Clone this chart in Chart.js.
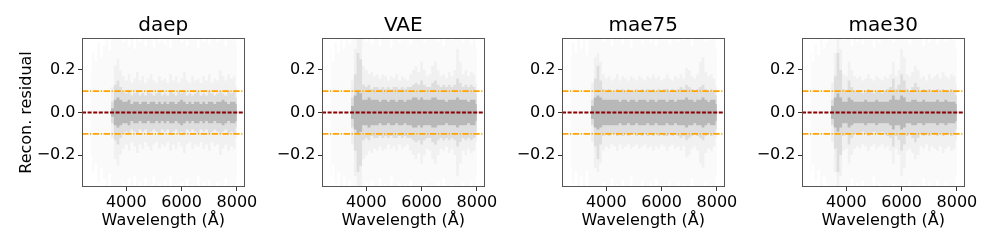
<!DOCTYPE html>
<html>
<head>
<meta charset="utf-8">
<script src="https://cdn.jsdelivr.net/npm/chart.js@4.4.0/dist/chart.umd.min.js"></script>
<style>
body { margin: 0; background: #fff; }
#wrap { position: relative; width: 997px; height: 249px; }
#wrap canvas { position: absolute; top: 0; }
</style>
</head>
<body>
<div id="wrap">
<canvas id="p0" width="260" height="249" style="left:0px"></canvas>
<canvas id="p1" width="260" height="249" style="left:240px"></canvas>
<canvas id="p2" width="260" height="249" style="left:480px"></canvas>
<canvas id="p3" width="260" height="249" style="left:720px"></canvas>
</div>
<script>
const titles = ['daep', 'VAE', 'mae75', 'mae30']
const wave = [
    2700, 2800, 2900, 3000, 3100, 3200, 3300, 3400, 3500,
    3600, 3700, 3800, 3900, 4000, 4100, 4200, 4300, 4400,
    4500, 4600, 4700, 4800, 4900, 5000, 5100, 5200, 5300,
    5400, 5500, 5600, 5700, 5800, 5900, 6000, 6100, 6200,
    6300, 6400, 6500, 6600, 6700, 6800, 6900, 7000, 7100,
    7200, 7300, 7400, 7500, 7600, 7700, 7800, 7900, 8000
]
const xTicks = [4000, 6000, 8000]
const xTickLabels = ['4000', '6000', '8000']
const yTicks = [-0.2, 0, 0.2]
const yTickLabels = ['\u22120.2', '0.0', '0.2']
const refLevels = [0, 0.1, -0.1]
const X_MIN = 2400, X_MAX = 8280, Y_MIN = -0.35, Y_MAX = 0.35

// half-spread of the residual cloud at each wavelength (faint reach, wide, mid, core)
const daepOuter = [
    0.20, 0.28, 0.24, 0.33, 0.26, 0.31, 0.35, 0.29, 0.35,
    0.35, 0.35, 0.35, 0.33, 0.35, 0.31, 0.35, 0.30, 0.35,
    0.33, 0.35, 0.31, 0.35, 0.34, 0.30, 0.35, 0.33, 0.35,
    0.32, 0.35, 0.30, 0.35, 0.34, 0.35, 0.33, 0.35, 0.31,
    0.35, 0.34, 0.35, 0.30, 0.35, 0.33, 0.35, 0.32, 0.35,
    0.35, 0.33, 0.35, 0.35, 0.31, 0.35, 0.34, 0.35, 0.33
]
const daepWide = [
    0, 0, 0, 0, 0, 0, 0, 0, 0.12,
    0.22, 0.25, 0.20, 0.17, 0.15, 0.18, 0.14, 0.16, 0.19,
    0.15, 0.17, 0.14, 0.16, 0.18, 0.15, 0.14, 0.17, 0.15,
    0.16, 0.14, 0.18, 0.15, 0.17, 0.14, 0.16, 0.19, 0.15,
    0.14, 0.17, 0.15, 0.16, 0.14, 0.17, 0.15, 0.18, 0.14,
    0.16, 0.15, 0.20, 0.17, 0.15, 0.18, 0.16, 0.17, 0.12
]
const daepMid = [
    0, 0, 0, 0, 0, 0, 0, 0, 0.05,
    0.13, 0.15, 0.12, 0.10, 0.09, 0.10, 0.08, 0.09, 0.10,
    0.08, 0.09, 0.08, 0.10, 0.09, 0.08, 0.09, 0.10, 0.08,
    0.09, 0.08, 0.10, 0.09, 0.08, 0.10, 0.09, 0.10, 0.08,
    0.09, 0.08, 0.09, 0.10, 0.08, 0.09, 0.08, 0.10, 0.09,
    0.08, 0.09, 0.10, 0.09, 0.08, 0.10, 0.09, 0.10, 0.07
]
const daepCore = [
    0, 0, 0, 0, 0, 0, 0, 0, 0.02,
    0.06, 0.07, 0.06, 0.05, 0.05, 0.06, 0.04, 0.05, 0.05,
    0.04, 0.05, 0.05, 0.04, 0.05, 0.05, 0.04, 0.05, 0.04,
    0.05, 0.04, 0.05, 0.05, 0.04, 0.05, 0.06, 0.05, 0.04,
    0.05, 0.04, 0.05, 0.05, 0.04, 0.05, 0.04, 0.05, 0.05,
    0.04, 0.05, 0.05, 0.06, 0.05, 0.04, 0.05, 0.05, 0.04
]

const vaeOuter = [
    0.30, 0.24, 0.33, 0.28, 0.35, 0.30, 0.35, 0.32, 0.35,
    0.35, 0.35, 0.35, 0.35, 0.33, 0.35, 0.32, 0.35, 0.35,
    0.31, 0.35, 0.34, 0.35, 0.30, 0.35, 0.35, 0.33, 0.35,
    0.34, 0.35, 0.32, 0.35, 0.35, 0.35, 0.35, 0.33, 0.35,
    0.35, 0.35, 0.35, 0.33, 0.35, 0.31, 0.35, 0.35, 0.34,
    0.35, 0.35, 0.35, 0.33, 0.35, 0.35, 0.32, 0.35, 0.30
]
const vaeWide = [
    0, 0, 0, 0, 0, 0, 0, 0, 0.15,
    0.30, 0.35, 0.35, 0.22, 0.20, 0.18, 0.19, 0.17, 0.18,
    0.16, 0.18, 0.17, 0.15, 0.17, 0.16, 0.18, 0.15, 0.17,
    0.16, 0.15, 0.18, 0.20, 0.22, 0.19, 0.24, 0.20, 0.17,
    0.18, 0.22, 0.24, 0.20, 0.17, 0.18, 0.16, 0.19, 0.17,
    0.20, 0.30, 0.24, 0.18, 0.20, 0.17, 0.19, 0.18, 0.14
]
const vaeMid = [
    0, 0, 0, 0, 0, 0, 0, 0, 0.07,
    0.18, 0.28, 0.25, 0.13, 0.12, 0.13, 0.11, 0.12, 0.12,
    0.11, 0.12, 0.11, 0.12, 0.11, 0.12, 0.12, 0.11, 0.12,
    0.11, 0.12, 0.12, 0.13, 0.14, 0.13, 0.15, 0.13, 0.12,
    0.12, 0.14, 0.15, 0.13, 0.12, 0.13, 0.12, 0.13, 0.12,
    0.13, 0.16, 0.14, 0.12, 0.13, 0.12, 0.13, 0.12, 0.09
]
const vaeCore = [
    0, 0, 0, 0, 0, 0, 0, 0, 0.03,
    0.08, 0.10, 0.09, 0.06, 0.06, 0.07, 0.06, 0.06, 0.06,
    0.05, 0.06, 0.06, 0.05, 0.06, 0.06, 0.05, 0.06, 0.06,
    0.05, 0.06, 0.06, 0.07, 0.07, 0.06, 0.07, 0.06, 0.06,
    0.06, 0.07, 0.07, 0.06, 0.06, 0.06, 0.05, 0.06, 0.06,
    0.06, 0.07, 0.06, 0.06, 0.06, 0.05, 0.06, 0.06, 0.04
]

const mae75Outer = [
    0.26, 0.33, 0.28, 0.35, 0.30, 0.35, 0.27, 0.35, 0.35,
    0.35, 0.35, 0.35, 0.33, 0.35, 0.35, 0.31, 0.35, 0.34,
    0.35, 0.32, 0.35, 0.35, 0.30, 0.35, 0.34, 0.35, 0.32,
    0.35, 0.35, 0.33, 0.35, 0.31, 0.35, 0.35, 0.34, 0.35,
    0.32, 0.35, 0.35, 0.33, 0.35, 0.34, 0.35, 0.35, 0.31,
    0.35, 0.35, 0.35, 0.35, 0.33, 0.35, 0.34, 0.35, 0.30
]
const mae75Wide = [
    0, 0, 0, 0, 0, 0, 0, 0, 0.14,
    0.26, 0.28, 0.24, 0.18, 0.16, 0.17, 0.15, 0.16, 0.18,
    0.15, 0.17, 0.16, 0.15, 0.17, 0.16, 0.15, 0.17, 0.16,
    0.15, 0.17, 0.16, 0.18, 0.16, 0.17, 0.15, 0.16, 0.18,
    0.16, 0.15, 0.17, 0.16, 0.18, 0.16, 0.21, 0.20, 0.17,
    0.16, 0.18, 0.24, 0.26, 0.19, 0.17, 0.18, 0.16, 0.12
]
const mae75Mid = [
    0, 0, 0, 0, 0, 0, 0, 0, 0.06,
    0.16, 0.22, 0.15, 0.11, 0.10, 0.11, 0.10, 0.10, 0.11,
    0.10, 0.11, 0.10, 0.11, 0.10, 0.10, 0.11, 0.10, 0.11,
    0.10, 0.11, 0.10, 0.11, 0.10, 0.11, 0.10, 0.11, 0.11,
    0.10, 0.11, 0.10, 0.11, 0.12, 0.11, 0.13, 0.12, 0.11,
    0.10, 0.11, 0.12, 0.13, 0.11, 0.10, 0.11, 0.10, 0.08
]
const mae75Core = [
    0, 0, 0, 0, 0, 0, 0, 0, 0.03,
    0.07, 0.08, 0.07, 0.06, 0.06, 0.06, 0.06, 0.06, 0.06,
    0.05, 0.06, 0.06, 0.05, 0.06, 0.06, 0.05, 0.06, 0.06,
    0.06, 0.05, 0.06, 0.06, 0.05, 0.06, 0.06, 0.06, 0.05,
    0.06, 0.06, 0.05, 0.06, 0.06, 0.06, 0.07, 0.06, 0.06,
    0.05, 0.06, 0.06, 0.07, 0.06, 0.05, 0.06, 0.06, 0.04
]

const mae30Outer = [
    0.28, 0.24, 0.32, 0.27, 0.35, 0.30, 0.33, 0.35, 0.35,
    0.35, 0.35, 0.35, 0.34, 0.35, 0.35, 0.31, 0.35, 0.33,
    0.35, 0.32, 0.35, 0.34, 0.35, 0.30, 0.35, 0.33, 0.35,
    0.35, 0.35, 0.35, 0.33, 0.35, 0.35, 0.35, 0.34, 0.35,
    0.32, 0.35, 0.35, 0.34, 0.35, 0.31, 0.35, 0.33, 0.35,
    0.35, 0.32, 0.35, 0.35, 0.33, 0.35, 0.35, 0.34, 0.30
]
const mae30Wide = [
    0, 0, 0, 0, 0, 0, 0, 0, 0.14,
    0.28, 0.35, 0.30, 0.18, 0.17, 0.24, 0.20, 0.17, 0.16,
    0.17, 0.15, 0.16, 0.18, 0.16, 0.15, 0.17, 0.16, 0.15,
    0.17, 0.16, 0.18, 0.24, 0.17, 0.20, 0.30, 0.26, 0.18,
    0.17, 0.19, 0.22, 0.20, 0.16, 0.17, 0.15, 0.18, 0.16,
    0.17, 0.18, 0.16, 0.19, 0.17, 0.16, 0.18, 0.17, 0.13
]
const mae30Mid = [
    0, 0, 0, 0, 0, 0, 0, 0, 0.06,
    0.17, 0.28, 0.20, 0.11, 0.10, 0.15, 0.12, 0.10, 0.10,
    0.10, 0.09, 0.10, 0.11, 0.10, 0.09, 0.10, 0.10, 0.09,
    0.10, 0.11, 0.12, 0.16, 0.11, 0.13, 0.18, 0.15, 0.11,
    0.10, 0.12, 0.14, 0.12, 0.10, 0.11, 0.10, 0.11, 0.10,
    0.10, 0.11, 0.10, 0.11, 0.10, 0.10, 0.11, 0.10, 0.08
]
const mae30Core = [
    0, 0, 0, 0, 0, 0, 0, 0, 0.03,
    0.07, 0.09, 0.07, 0.05, 0.05, 0.07, 0.06, 0.05, 0.05,
    0.05, 0.05, 0.06, 0.05, 0.05, 0.05, 0.06, 0.05, 0.05,
    0.05, 0.05, 0.06, 0.08, 0.06, 0.06, 0.08, 0.07, 0.05,
    0.05, 0.06, 0.06, 0.05, 0.05, 0.06, 0.05, 0.05, 0.05,
    0.05, 0.06, 0.05, 0.05, 0.06, 0.05, 0.05, 0.05, 0.04
]

const panels = [
    [daepOuter, daepWide, daepMid, daepCore],
    [vaeOuter, vaeWide, vaeMid, vaeCore],
    [mae75Outer, mae75Wide, mae75Mid, mae75Core],
    [mae30Outer, mae30Wide, mae30Mid, mae30Core]
]
const layerAlpha = [0.022, 0.045, 0.09, 0.22]

const font = { family: 'DejaVu Sans', size: 16 }

// box round the plot area, like matplotlib spines
const frame = {
    id: 'frame',
    afterDatasetsDraw(chart) {
        const { ctx, chartArea: a } = chart
        ctx.save()
        ctx.strokeStyle = '#555'
        ctx.lineWidth = 1
        ctx.strokeRect(Math.round(a.left) + 0.5, Math.round(a.top) + 0.5,
            Math.round(a.right - a.left) - 1, Math.round(a.bottom - a.top) - 1)
        ctx.restore()
    }
}

// upper edge + lower edge filled between them
const band = (vals, alpha) => {
    const edge = {
        type: 'line',
        borderWidth: 0,
        pointRadius: 0,
        stepped: 'middle',
        order: 2
    }
    return [
        { ...edge, data: wave.map((w, i) => ({ x: w, y: vals[i] })), fill: false },
        { ...edge, data: wave.map((w, i) => ({ x: w, y: -vals[i] })), fill: '-1',
          backgroundColor: `rgba(40, 40, 40, ${alpha})` }
    ]
}

const refLine = (level) => ({
    type: 'line',
    data: [{ x: X_MIN, y: level }, { x: X_MAX, y: level }],
    borderColor: level === 0 ? '#8b0000' : '#ffa500',
    borderWidth: 1.8,
    borderDash: level === 0 ? [4, 1.6] : [6.4, 1.6, 1.2, 1.6],
    pointRadius: 0,
    fill: false,
    order: 0
})

const makePanel = (idx) => {
    const datasets = panels[idx].flatMap((vals, k) => band(vals, layerAlpha[k]))
    refLevels.forEach(l => datasets.push(refLine(l)))

    const ctx = document.getElementById('p' + idx).getContext('2d')
    return new Chart(ctx, {
        type: 'line',
        data: { datasets },
        plugins: [frame],
        options: {
            responsive: false,
            animation: false,
            events: [],
            layout: { padding: { left: 0, right: 14, top: 0, bottom: 0 } },
            plugins: {
                legend: { display: false },
                tooltip: { enabled: false },
                title: {
                    display: true,
                    fullSize: false,
                    text: titles[idx],
                    color: '#000',
                    font: { family: 'DejaVu Sans', size: 20, lineHeight: 1, weight: 'normal' },
                    padding: { top: 16, bottom: 2 }
                }
            },
            scales: {
                x: {
                    type: 'linear',
                    min: X_MIN,
                    max: X_MAX,
                    afterBuildTicks: s => { s.ticks = xTicks.map(v => ({ value: v })) },
                    afterFit: s => { s.height = 62 },
                    grid: { drawOnChartArea: false, drawTicks: true, tickLength: 4, tickColor: '#333' },
                    border: { display: false },
                    ticks: {
                        color: '#000',
                        font,
                        padding: 2,
                        maxRotation: 0,
                        autoSkip: false,
                        callback: (v) => xTickLabels[xTicks.indexOf(v)]
                    },
                    title: {
                        display: true,
                        text: 'Wavelength (Å)',
                        color: '#000',
                        font,
                        padding: { top: 0, bottom: 19 }
                    }
                },
                y: {
                    min: Y_MIN,
                    max: Y_MAX,
                    afterBuildTicks: s => { s.ticks = yTicks.map(v => ({ value: v })) },
                    afterFit: s => { s.width = 82 },
                    grid: { drawOnChartArea: false, drawTicks: true, tickLength: 4, tickColor: '#333' },
                    border: { display: false },
                    ticks: {
                        color: '#000',
                        font,
                        padding: 2.5,
                        autoSkip: false,
                        callback: (v) => yTickLabels[yTicks.indexOf(v)]
                    },
                    title: {
                        display: idx === 0,
                        text: 'Recon. residual',
                        color: '#000',
                        font,
                        padding: { top: 17.5, bottom: 0 }
                    }
                }
            }
        }
    })
}

titles.forEach((t, i) => makePanel(i))
</script>
</body>
</html>
